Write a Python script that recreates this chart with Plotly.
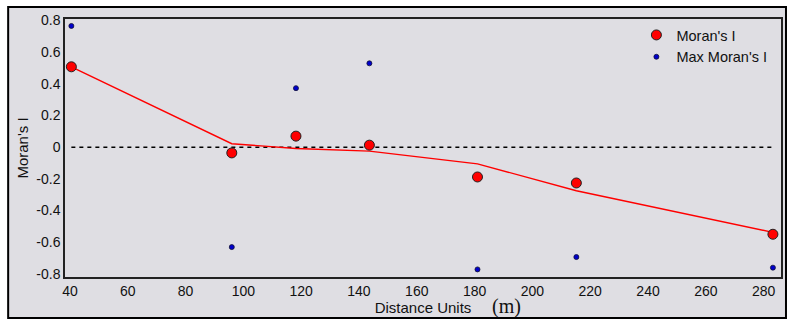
import plotly.graph_objects as go

# Data
distance = [40.5, 96.0, 118.2, 143.6, 181.0, 215.2, 283.2]
morans_i = [0.508, -0.036, 0.070, 0.013, -0.188, -0.226, -0.550]
max_morans_i = [0.766, -0.631, 0.373, 0.530, -0.772, -0.694, -0.761]
trend = [0.508, 0.022, -0.008, -0.025, -0.105, -0.275, -0.538]

x_ticks = [40, 60, 80, 100, 120, 140, 160, 180, 200, 220, 240, 260, 280]
y_ticks = [-0.8, -0.6, -0.4, -0.2, 0, 0.2, 0.4, 0.6, 0.8]
y_tick_labels = ["-0.8", "-0.6", "-0.4", "-0.2", "0", "0.2", "0.4", "0.6", "0.8"]

BG = "#dfdee3"
FONT = "Liberation Sans, Arial, sans-serif"

W, H = 789, 320
L, R, T, B = 65, 6, 19, 43
pw, ph = W - L - R, H - T - B

def px_x(p):
    return (p - L) / pw

def px_y(p):
    return (H - B - p) / ph

fig = go.Figure()

# zero reference line
fig.add_trace(go.Scatter(
    x=[min(distance), max(distance)], y=[0, 0], mode="lines",
    line=dict(color="black", width=1.6, dash="4px,4px"),
    showlegend=False, hoverinfo="skip"))

# trend line
fig.add_trace(go.Scatter(
    x=distance, y=trend, mode="lines",
    line=dict(color="#ff0000", width=1.4),
    showlegend=False, hoverinfo="skip"))

fig.add_trace(go.Scatter(
    x=distance, y=morans_i, mode="markers", name="Moran's I",
    marker=dict(color="#ff0000", size=10, line=dict(color="#222222", width=1))))

fig.add_trace(go.Scatter(
    x=distance, y=max_morans_i, mode="markers", name="Max Moran's I",
    marker=dict(color="#0000cc", size=5, line=dict(color="#111133", width=0.8))))

fig.update_layout(
    width=W, height=H,
    margin=dict(l=L, r=R, t=T, b=B),
    paper_bgcolor="white",
    plot_bgcolor=BG,
    font=dict(family=FONT, size=14, color="#111111"),
    legend=dict(x=px_x(638), y=px_y(19), xanchor="left", yanchor="top",
                bgcolor="rgba(0,0,0,0)", font=dict(size=14.5),
                tracegroupgap=0, itemwidth=30),
    xaxis=dict(range=[38.3, 286], tickvals=x_ticks, showgrid=False, zeroline=False,
               showline=True, linecolor="#222222", linewidth=1.5, mirror=True,
               ticks="", tickfont=dict(size=14),
               title=dict(text="Distance Units", font=dict(size=15), standoff=4)),
    yaxis=dict(range=[-0.82, 0.81], tickvals=y_ticks, ticktext=y_tick_labels,
               showgrid=False, zeroline=False,
               showline=True, linecolor="#222222", linewidth=1.5, mirror=True,
               ticks="", tickfont=dict(size=14),
               title=dict(text="Moran's I", font=dict(size=15), standoff=4)),
    shapes=[dict(type="rect", xref="paper", yref="paper", layer="below",
                 x0=px_x(8), x1=px_x(788), y0=px_y(318), y1=px_y(7),
                 fillcolor=BG, line=dict(color="black", width=2))],
    annotations=[dict(text="(m)", xref="paper", yref="paper",
                      x=px_x(508), y=px_y(306), xanchor="center", yanchor="middle",
                      showarrow=False,
                      font=dict(family="Liberation Serif, Times New Roman, serif", size=20,
                                color="#111111"))],
)

fig.write_html("out.html")
